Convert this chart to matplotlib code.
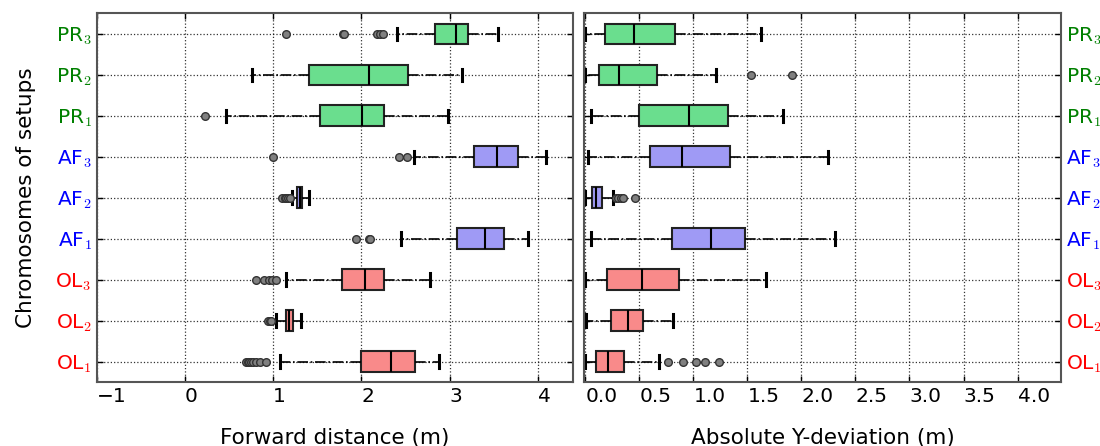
import matplotlib
matplotlib.use('Agg')
import matplotlib.pyplot as plt
import numpy as np

plt.rcParams['mathtext.fontset'] = 'cm'

# rows from bottom to top
labels = ['OL$_1$', 'OL$_2$', 'OL$_3$', 'AF$_1$', 'AF$_2$', 'AF$_3$', 'PR$_1$', 'PR$_2$', 'PR$_3$']
label_colors = ['#ff0000'] * 3 + ['#0000ff'] * 3 + ['#008000'] * 3
box_colors = ['#f98a8a'] * 3 + ['#9f9af5'] * 3 + ['#6ade8e'] * 3

# forward distance (m)
fwd_whislo = [1.08, 1.03, 1.15, 2.45, 1.21, 2.59, 0.46, 0.76, 2.40]
fwd_q1 = [1.99, 1.14, 1.78, 3.08, 1.27, 3.28, 1.53, 1.40, 2.83]
fwd_med = [2.34, 1.18, 2.04, 3.40, 1.30, 3.54, 2.01, 2.09, 3.07]
fwd_q3 = [2.61, 1.22, 2.26, 3.61, 1.33, 3.77, 2.26, 2.53, 3.21]
fwd_whishi = [2.88, 1.32, 2.78, 3.89, 1.40, 4.09, 2.98, 3.14, 3.55]
fwd_fliers = [
  [0.69, 0.71, 0.73, 0.75, 0.77, 0.81, 0.85, 0.92],
  [0.94, 0.96, 0.98],
  [0.81, 0.90, 0.95, 0.99, 1.03],
  [1.94, 2.08, 2.10],
  [1.10, 1.13, 1.15, 1.17, 1.19],
  [1.00, 2.43, 2.52],
  [0.23],
  [],
  [1.14, 1.79, 1.80, 2.18, 2.21, 2.24],
]

# absolute y-deviation (m)
dev_whislo = [0.0, 0.01, 0.0, 0.05, 0.0, 0.02, 0.05, 0.0, 0.0]
dev_q1 = [0.10, 0.24, 0.20, 0.80, 0.06, 0.60, 0.50, 0.13, 0.18]
dev_med = [0.21, 0.39, 0.52, 1.16, 0.10, 0.89, 0.96, 0.31, 0.45]
dev_q3 = [0.36, 0.53, 0.87, 1.48, 0.15, 1.34, 1.32, 0.66, 0.83]
dev_whishi = [0.68, 0.81, 1.67, 2.31, 0.26, 2.25, 1.83, 1.21, 1.63]
dev_fliers = [
  [0.76, 0.90, 1.02, 1.11, 1.24],
  [],
  [],
  [],
  [0.28, 0.30, 0.33, 0.35, 0.46],
  [],
  [],
  [1.53, 1.91],
  [],
]


def make_stats(whislo, q1, med, q3, whishi, fliers):
  stats = []
  for i in range(len(med)):
    stats.append({'whislo': whislo[i], 'q1': q1[i], 'med': med[i], 'q3': q3[i],
                  'whishi': whishi[i], 'fliers': np.array(fliers[i])})
  return stats


def draw_panel(ax, stats):
  positions = np.arange(1, len(stats) + 1)
  bp = ax.bxp(stats, positions=positions, vert=False, widths=0.5, patch_artist=True,
              capwidths=0.3,
              boxprops=dict(edgecolor='#222222', linewidth=1.5),
              medianprops=dict(color='black', linewidth=1.5),
              whiskerprops=dict(color='black', linestyle='-.', linewidth=1.2),
              capprops=dict(color='black', linewidth=2.2),
              flierprops=dict(marker='o', markerfacecolor='#808080',
                              markeredgecolor='#333333', markersize=5.5))
  for patch, c in zip(bp['boxes'], box_colors):
    patch.set_facecolor(c)
  ax.set_ylim(0.5, len(stats) + 0.5)
  ax.grid(True, linestyle=':', color='black', linewidth=0.9, alpha=0.8)
  ax.set_axisbelow(True)
  for sp in ax.spines.values():
    sp.set_color('#555555')
    sp.set_linewidth(1.5)
  ax.tick_params(direction='in', length=4, width=1, top=True, right=True,
                 labelsize=14.5, color='black')
  return positions


fig = plt.figure(figsize=(11, 4.46), dpi=100)
ax1 = fig.add_axes([0.0879, 0.1435, 0.4333, 0.8267])
ax2 = fig.add_axes([0.5312, 0.1435, 0.4331, 0.8267])

pos = draw_panel(ax1, make_stats(fwd_whislo, fwd_q1, fwd_med, fwd_q3, fwd_whishi, fwd_fliers))
draw_panel(ax2, make_stats(dev_whislo, dev_q1, dev_med, dev_q3, dev_whishi, dev_fliers))

ax1.set_xlim(-1, 4.4)
ax1.set_xticks([-1, 0, 1, 2, 3, 4])
ax2.set_xlim(-0.01, 4.4)
ax2.set_xticks(np.arange(0, 4.01, 0.5))
ax2.set_xticklabels(['%.1f' % v for v in np.arange(0, 4.01, 0.5)])

ax2.tick_params(labelleft=False, labelright=True)

for ax in (ax1, ax2):
  ax.set_yticks(pos)
  ax.set_yticklabels(labels)
  for tick, c in zip(ax.yaxis.get_major_ticks(), label_colors):
    tick.label1.set_color(c)
    tick.label2.set_color(c)
  plt.setp(ax.get_xticklabels(), ha='left')

ax1.set_ylabel('Chromosomes of setups', fontsize=15.5, labelpad=14)
ax1.set_xlabel('Forward distance (m)', fontsize=15.5, labelpad=16)
ax2.set_xlabel('Absolute Y-deviation (m)', fontsize=15.5, labelpad=16)

fig.savefig('out.png', dpi=100)
